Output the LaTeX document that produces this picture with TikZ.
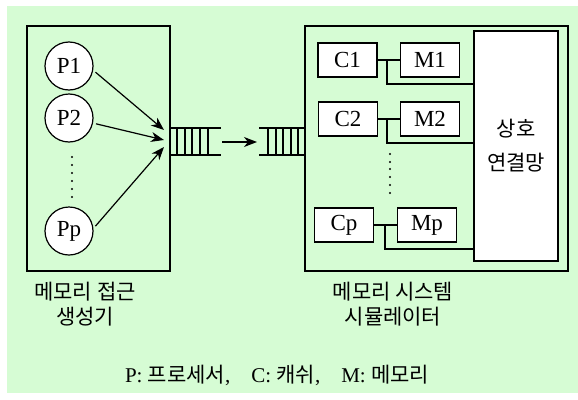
\documentclass[tikz,border=0pt]{standalone}
\usepackage{fontspec}
\setmainfont{Liberation Serif}
\newfontfamily\kr{Noto Sans CJK KR}
\usetikzlibrary{arrows.meta,calc}
\definecolor{bg}{RGB}{214,252,212}
\begin{document}
\begin{tikzpicture}[x=1pt,y=-1pt,
  box/.style={draw,line width=1.3pt,inner sep=0pt},
  pnode/.style={circle,draw,fill=white,line width=1.2pt,minimum size=48pt,inner sep=0pt,font=\fontsize{23}{26}\selectfont},
  cmbox/.style={draw,fill=white,line width=1.2pt,minimum width=59pt,minimum height=34pt,inner sep=0pt,font=\fontsize{23}{26}\selectfont},
  wire/.style={line width=1.2pt},
  tip/.style={-{Stealth[length=13pt,width=10pt,inset=4pt]}},
  arr/.style={line width=1.2pt,shorten <=3pt,tip},
  lbl/.style={align=center,font=\kr\fontsize{21}{25}\selectfont},
  dotm/.style={fill=black},
  ]
\useasboundingbox (0,0) rectangle (578,399);
\fill[bg] (7,6) rectangle (578,393);

% outer boxes
\node[box,minimum width=143pt,minimum height=245pt] (gen) at (98.5,148.5) {};
\node[box,minimum width=263pt,minimum height=245pt] (sim) at (436.5,148.5) {};

% processors
\node[pnode] (P1) at (69,66) {P1};
\node[pnode] (P2) at (69,118) {P2};
\node[pnode] (Pp) at (69,231) {Pp};
\foreach \y in {157,165,173,181,189,197} \fill[dotm] (72,\y) circle (1.1pt);

% arrow targets
\coordinate (t1) at (164,130);
\coordinate (t2) at (164,140);
\coordinate (t3) at (164,147);
\draw[arr] (P1.-10) -- (t1);
\draw[arr] (P2.-12) -- (t2);
\draw[arr] (Pp.6) -- (t3);

% queue 1
\coordinate (q1a) at (170,128);
\coordinate (q1b) at (221,128);
\coordinate (q1c) at (170,155);
\coordinate (q1d) at (221,155);
\draw[wire] (q1a) -- (q1b);
\draw[wire] (q1c) -- (q1d);
\foreach \x in {177,185,192,200,208} \draw[wire] (\x,128) -- (\x,155);

% arrow between queues
\coordinate (qa) at (222,142);
\coordinate (qb) at (257,142);
\draw[line width=1.2pt,tip] (qa) -- (qb);

% queue 2
\coordinate (q2a) at (259,128);
\coordinate (q2c) at (259,155);
\draw[wire] (q2a) -- (q2a -| sim.west);
\draw[wire] (q2c) -- (q2c -| sim.west);
\foreach \x in {268,276,283,291,298} \draw[wire] (\x,128) -- (\x,155);

% interconnect
\node[box,fill=white,line width=1.2pt,minimum width=84pt,minimum height=230pt,align=center,font=\kr\fontsize{21}{34}\selectfont] (net) at (516,146) {상호\\연결망};

% caches and memories
\node[cmbox] (C1) at (347.5,60) {C1};
\node[cmbox] (M1) at (430,60) {M1};
\node[cmbox] (C2) at (348,119) {C2};
\node[cmbox] (M2) at (430,119) {M2};
\node[cmbox] (Cp) at (344,225) {Cp};
\node[cmbox] (Mp) at (427,225) {Mp};

\coordinate (j1) at (387,84);
\coordinate (j2) at (387,143);
\coordinate (j3) at (385,249);
\draw[wire] (C1.east) -- (M1.west);
\draw[wire] (C2.east) -- (M2.west);
\draw[wire] (Cp.east) -- (Mp.west);
\draw[wire] (C1.east -| j1) -- (j1) -- (j1 -| net.west);
\draw[wire] (C2.east -| j2) -- (j2) -- (j2 -| net.west);
\draw[wire] (Cp.east -| j3) -- (j3) -- (j3 -| net.west);
\foreach \y in {154,162,169,177,185,193} \fill[dotm] (390,\y) circle (1.1pt);

% labels
\node[lbl] (genl) at (85,304) {메모리 접근\\생성기};
\node[lbl] (siml) at (393,304) {메모리 시스템\\시뮬레이터};
\node[font=\fontsize{21}{24}\selectfont] (legend) at (277,375) {P: {\kr 프로세서},\hspace{21pt}C: {\kr 캐쉬},\hspace{21pt}M: {\kr 메모리}};
\end{tikzpicture}
\end{document}
